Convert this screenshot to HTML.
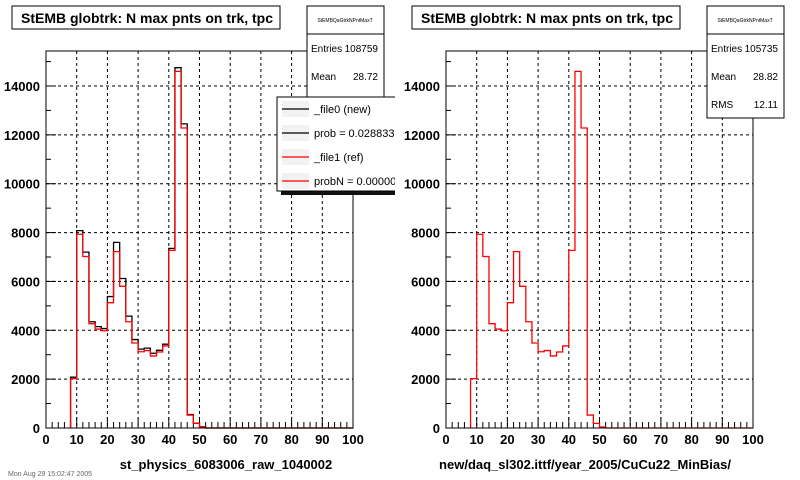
<!DOCTYPE html>
<html><head><meta charset="utf-8"><style>
body{margin:0;background:#fff}
svg{display:block;font-family:"Liberation Sans",Arial,sans-serif}
</style></head><body>
<svg id="c" width="800" height="480" viewBox="0 0 800 480" xmlns="http://www.w3.org/2000/svg">
<defs><clipPath id="lclip"><rect x="0" y="0" width="395" height="480"/></clipPath></defs>
<rect width="800" height="480" fill="#fff"/>
</svg>
<script>
const binEdges = [8,10,12,14,16,18,20,22,24,26,28,30,32,34,36,38,40,42,44,46,48,50];
const newVals = [2080,8080,7200,4350,4150,4070,5380,7600,6120,4580,3620,3230,3270,3060,3180,3430,7350,14750,12450,550,200,50];
const refVals = [2020,7930,7020,4270,4050,3980,5130,7220,5800,4350,3480,3120,3170,2950,3110,3360,7270,14600,12280,530,190,40];
const xTicks = [0,10,20,30,40,50,60,70,80,90,100];
const yTicks = [0,2000,4000,6000,8000,10000,12000,14000];
const binW = 2;
const NS="http://www.w3.org/2000/svg";
const svg=document.getElementById('c');
function mk(tag,attrs,parent,txt){const e=document.createElementNS(NS,tag);for(const k in attrs)e.setAttribute(k,attrs[k]);if(txt!==undefined)e.textContent=txt;(parent||svg).appendChild(e);return e;}
function drawPanel(ox,xTitle,titleX,series,stats,legend,pname){
  const L=ox+46,R=ox+353,T=51,B=428;
  const X=v=>L+(v/100)*(R-L);
  const Y=v=>B-v*(342/14000);
  const g=mk('g',{});
  
  
  xTicks.forEach(t=>{if(t>0&&t<100){const l=mk('line',{x1:X(t),x2:X(t),y1:T,y2:B,stroke:'#000','stroke-dasharray':'3,3','stroke-width':1},g);}});
  yTicks.forEach(t=>{if(t>0){const l=mk('line',{x1:L,x2:R,y1:Y(t),y2:Y(t),stroke:'#000','stroke-dasharray':'3,3','stroke-width':1},g);}});
  for(let v=0;v<=100;v+=2){const big=v%10===0;mk('line',{x1:X(v),x2:X(v),y1:B,y2:B-(big?11:6),stroke:'#000'},g);}
  for(let v=0;v<=15000;v+=1000){if(Y(v)<T)break;const big=v%2000===0;mk('line',{x1:L,x2:L+(big?10:5),y1:Y(v),y2:Y(v),stroke:'#000'},g);}
  xTicks.forEach(t=>{const e=mk('text',{x:X(t),y:444,'text-anchor':'middle','font-size':13,'font-weight':'bold'},g,String(t));});
  yTicks.forEach(t=>{const e=mk('text',{x:L-6,y:Y(t)+5,'text-anchor':'end','font-size':13,'font-weight':'bold'},g,String(t));});
  const xt=mk('text',{x:titleX,y:469,'text-anchor':'middle','font-size':13,'font-weight':'bold'},g,xTitle);
  
  series.forEach(s=>{
    let d=`M${X(binEdges[0])},${B}`;
    s.vals.forEach((v,i)=>{const x0=X(binEdges[i]),x1=X(binEdges[i]+binW);d+=` L${x0},${Y(v)} L${x1},${Y(v)}`;});
    d+=` L${X(binEdges[binEdges.length-1]+binW)},${B} L${R},${B}`;
    const p=mk('path',{d:d,fill:'none',stroke:s.color,'stroke-width':1.3},g);
    
  });
  mk('rect',{x:L,y:T,width:R-L,height:B-T,fill:'none',stroke:'#000'},g);
  const tb=mk('g',{},g);
  mk('rect',{x:ox+12,y:6,width:268,height:23,fill:'#fff',stroke:'#000'},tb);
  mk('text',{x:ox+21,y:23,'font-size':14,'font-weight':'bold'},tb,'StEMB globtrk: N max pnts on trk, tpc');
  const sb=mk('g',{},g);
  mk('rect',{x:ox+307,y:6,width:77,height:stats.h,fill:'#fff',stroke:'#000'},sb);
  mk('line',{x1:ox+307,x2:ox+384,y1:34,y2:34,stroke:'#000'},sb);
  mk('text',{x:ox+345,y:22,'text-anchor':'middle','font-size':5},sb,'StEMBQaGtrkNPntMaxT');
  stats.rows.forEach((r,i)=>{const y=52+i*28;mk('text',{x:ox+311,y:y,'font-size':10},sb,r[0]);mk('text',{x:ox+378,y:y,'text-anchor':'end','font-size':10},sb,r[1]);});
  if(legend){
    const lg=mk('g',{'clip-path':'url(#lclip)'},g);
    mk('rect',{x:ox+281,y:101,width:130,height:94,fill:'#111'},lg);
    mk('rect',{x:ox+277,y:97,width:130,height:94,fill:'#fff',stroke:'#000'},lg);
    legend.forEach((e,i)=>{const y=109+i*24;
      const le=mk('g',{},lg);
      mk('rect',{x:ox+282,y:y-8,width:27,height:16,fill:'#f2f2f2'},le);
      mk('line',{x1:ox+282,x2:ox+309,y1:y,y2:y,stroke:e[1],'stroke-width':1.3},le);
      mk('text',{x:ox+314,y:y+4,'font-size':11},le,e[0]);});
  }
}
drawPanel(0,'st_physics_6083006_raw_1040002',226,
  [{vals:newVals,color:'#000',name:'hist-file0-new'},{vals:refVals,color:'#f00',name:'hist-file1-ref'}],
  {h:92,rows:[['Entries','108759'],['Mean','28.72']]},
  [['_file0 (new)','#000'],['prob = 0.028833','#000'],['_file1 (ref)','#f00'],['probN = 0.000000','#f00']],'left-panel');
drawPanel(400,'new/daq_sl302.ittf/year_2005/CuCu22_MinBias/',585,
  [{vals:refVals,color:'#f00',name:'hist-ref'}],
  {h:112,rows:[['Entries','105735'],['Mean','28.82'],['RMS','12.11']]},null,'right-panel');
const ft=mk('text',{x:8,y:476,'font-size':7,fill:'#666'},svg,'Mon Aug 29 15:02:47 2005');


</script>
</body></html>
